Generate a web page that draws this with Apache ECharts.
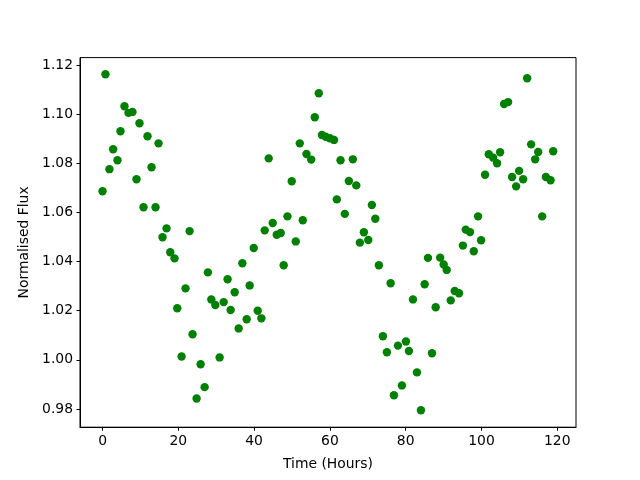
<!DOCTYPE html>
<html>
<head>
<meta charset="utf-8">
<script src="https://cdn.jsdelivr.net/npm/echarts@6/dist/echarts.min.js"></script>
<style>
  html, body { margin: 0; padding: 0; background: #fff; }
  #chart { width: 640px; height: 480px; }
</style>
</head>
<body>
<div id="chart"></div>
<script>
// time of each observation (hours)
const times = [
  0.0, 0.77, 1.82, 2.8, 3.94, 4.73, 5.79, 6.85, 7.9, 8.96,
  9.75, 10.81, 11.87, 12.93, 13.98, 14.78, 15.83, 16.89, 17.87, 19.0,
  19.72, 20.86, 21.9, 22.97, 23.76, 24.82, 25.88, 26.94, 27.8, 28.71,
  29.76, 30.9, 31.96, 33.0, 33.81, 34.87, 35.92, 36.9, 38.04, 38.83,
  39.9, 40.95, 41.92, 42.8, 43.85, 44.91, 45.97, 47.03, 47.8, 48.8,
  49.93, 50.99, 52.05, 52.84, 53.82, 55.06, 56.01, 57.07, 57.9, 58.9,
  60.0, 61.1, 61.83, 62.81, 63.94, 65.0, 66.06, 66.96, 67.91, 68.97,
  70.13, 71.08, 71.98, 72.93, 73.99, 75.05, 76.03, 76.9, 77.96, 79.01,
  80.07, 80.86, 81.92, 82.98, 84.03, 85.01, 85.88, 86.94, 87.92, 89.1,
  90.03, 90.83, 91.89, 92.94, 94.08, 95.1, 95.85, 96.99, 97.97, 99.1,
  99.9, 100.95, 101.93, 103.07, 104.12, 104.92, 105.97, 107.03, 108.09, 109.15,
  109.94, 111.0, 112.06, 113.11, 114.17, 114.96, 116.02, 117.0, 118.24, 118.93,
];

// normalised flux at each time
const flux = [
  1.0686, 1.1162, 1.0776, 1.0857, 1.0812, 1.0930, 1.1032, 1.1005, 1.1009, 1.0735,
  1.0963, 1.0621, 1.0910, 1.0784, 1.0621, 1.0881, 1.0499, 1.0535, 1.0438, 1.0413,
  1.0210, 1.0014, 1.0291, 1.0524, 1.0104, 0.9843, 0.9982, 0.9889, 1.0356, 1.0246,
  1.0223, 1.0010, 1.0235, 1.0328, 1.0203, 1.0275, 1.0128, 1.0393, 1.0165, 1.0303,
  1.0455, 1.0200, 1.0169, 1.0527, 1.0820, 1.0557, 1.0509, 1.0516, 1.0385, 1.0584,
  1.0727, 1.0482, 1.0881, 1.0568, 1.0838, 1.0815, 1.0987, 1.1085, 1.0915, 1.0908,
  1.0902, 1.0895, 1.0653, 1.0812, 1.0594, 1.0728, 1.0816, 1.0710, 1.0477, 1.0519,
  1.0488, 1.0630, 1.0574, 1.0385, 1.0096, 1.0031, 1.0312, 0.9856, 1.0058, 0.9896,
  1.0075, 1.0036, 1.0246, 0.9949, 0.9795, 1.0308, 1.0415, 1.0027, 1.0214, 1.0416,
  1.0388, 1.0366, 1.0242, 1.0280, 1.0271, 1.0465, 1.0530, 1.0520, 1.0442, 1.0584,
  1.0487, 1.0753, 1.0837, 1.0823, 1.0800, 1.0845, 1.1041, 1.1049, 1.0744, 1.0706,
  1.0769, 1.0735, 1.1146, 1.0877, 1.0816, 1.0846, 1.0584, 1.0744, 1.0731, 1.0849,
];

const xTicks = [0, 20, 40, 60, 80, 100, 120];
const yTicks = [0.98, 1.00, 1.02, 1.04, 1.06, 1.08, 1.10, 1.12];

const font = 'DejaVu Sans';
const fontSize = 13.9;

function axisStyle(ticks, formatter) {
  return {
    axisLine: { show: true, onZero: false, lineStyle: { color: '#000', width: 1 } },
    axisTick: {
      show: true,
      inside: false,
      length: 3.5,
      customValues: ticks,
      lineStyle: { color: '#000', width: 1 },
    },
    axisLabel: {
      show: true,
      margin: 7,
      customValues: ticks,
      formatter,
      color: '#000',
      fontFamily: font,
      fontSize,
    },
    splitLine: { show: false },
    nameTextStyle: { color: '#000', fontFamily: font, fontSize },
  };
}

const chart = echarts.init(document.getElementById('chart'), null, { renderer: 'canvas' });

const option = {
  animation: false,
  backgroundColor: '#fff',
  grid: {
    left: 80,
    top: 57.6,
    width: 496,
    height: 369.6,
    show: true,
    borderColor: '#000',
    borderWidth: 1,
    backgroundColor: 'transparent',
  },
  xAxis: {
    type: 'value',
    min: -5.95,
    max: 124.95,
    name: 'Time (Hours)',
    nameLocation: 'middle',
    nameGap: 30,
    ...axisStyle(xTicks, (v) => String(Math.round(v))),
  },
  yAxis: {
    type: 'value',
    min: 0.9726,
    max: 1.1230,
    name: 'Normalised Flux',
    nameLocation: 'middle',
    nameGap: 45,
    ...axisStyle(yTicks, (v) => v.toFixed(2)),
  },
  series: [{
    type: 'scatter',
    data: times.map((t, idx) => [t, flux[idx]]),
    symbol: 'circle',
    symbolSize: 8.4,
    itemStyle: { color: '#008000', opacity: 1 },
    emphasis: { disabled: true },
  }],
};

chart.setOption(option);
</script>
</body>
</html>
